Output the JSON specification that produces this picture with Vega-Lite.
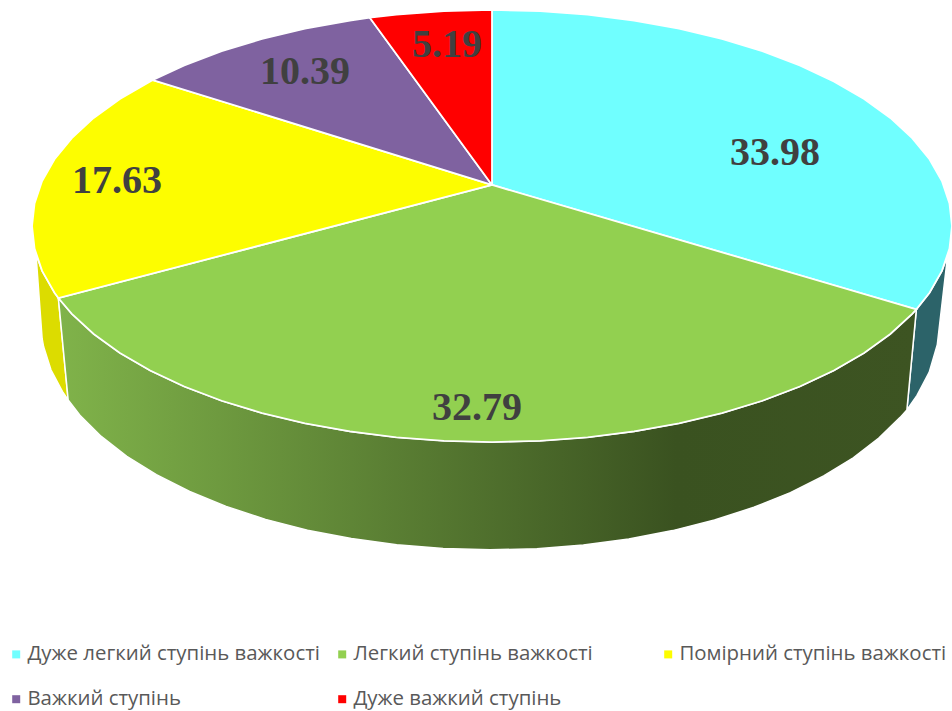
{
"$schema":"https://vega.github.io/schema/vega-lite/v6.json",
"width":952,"height":711,"padding":0,"autosize":{"type":"none"},
"background":"white","view":{"stroke":null},
"config":{"font":"Open Sans"},
"datasets":{
"slices":[
{"slice":"Дуже легкий ступінь важкості","p":0,"x":0,"y":19},{"slice":"Дуже легкий ступінь важкості","p":1,"x":0,"y":100},{"slice":"Дуже легкий ступінь важкості","p":2,"x":10.45,"y":99.45},{"slice":"Дуже легкий ступінь важкості","p":3,"x":20.79,"y":97.81},{"slice":"Дуже легкий ступінь важкості","p":4,"x":30.9,"y":95.11},{"slice":"Дуже легкий ступінь важкості","p":5,"x":40.67,"y":91.35},{"slice":"Дуже легкий ступінь важкості","p":6,"x":50,"y":86.6},{"slice":"Дуже легкий ступінь важкості","p":7,"x":58.78,"y":80.9},{"slice":"Дуже легкий ступінь важкості","p":8,"x":66.91,"y":74.31},{"slice":"Дуже легкий ступінь важкості","p":9,"x":74.31,"y":66.91},{"slice":"Дуже легкий ступінь важкості","p":10,"x":80.9,"y":58.78},{"slice":"Дуже легкий ступінь важкості","p":11,"x":86.6,"y":50},{"slice":"Дуже легкий ступінь важкості","p":12,"x":91.35,"y":40.67},{"slice":"Дуже легкий ступінь важкості","p":13,"x":95.11,"y":30.9},{"slice":"Дуже легкий ступінь важкості","p":14,"x":97.81,"y":20.79},{"slice":"Дуже легкий ступінь важкості","p":15,"x":99.45,"y":10.45},{"slice":"Дуже легкий ступінь важкості","p":16,"x":100,"y":0},{"slice":"Дуже легкий ступінь важкості","p":17,"x":99.45,"y":-10.45},{"slice":"Дуже легкий ступінь важкості","p":18,"x":97.81,"y":-20.79},{"slice":"Дуже легкий ступінь важкості","p":19,"x":95.11,"y":-30.9},{"slice":"Дуже легкий ступінь важкості","p":20,"x":92.25,"y":-38.59},{"slice":"Дуже легкий ступінь важкості","p":21,"x":0,"y":19},
{"slice":"Легкий ступінь важкості","p":0,"x":0,"y":19},{"slice":"Легкий ступінь важкості","p":1,"x":92.25,"y":-38.59},{"slice":"Легкий ступінь важкості","p":2,"x":91.35,"y":-40.67},{"slice":"Легкий ступінь важкості","p":3,"x":86.6,"y":-50},{"slice":"Легкий ступінь важкості","p":4,"x":80.9,"y":-58.78},{"slice":"Легкий ступінь важкості","p":5,"x":74.31,"y":-66.91},{"slice":"Легкий ступінь важкості","p":6,"x":66.91,"y":-74.31},{"slice":"Легкий ступінь важкості","p":7,"x":58.78,"y":-80.9},{"slice":"Легкий ступінь важкості","p":8,"x":50,"y":-86.6},{"slice":"Легкий ступінь важкості","p":9,"x":40.67,"y":-91.35},{"slice":"Легкий ступінь важкості","p":10,"x":30.9,"y":-95.11},{"slice":"Легкий ступінь важкості","p":11,"x":20.79,"y":-97.81},{"slice":"Легкий ступінь важкості","p":12,"x":10.45,"y":-99.45},{"slice":"Легкий ступінь важкості","p":13,"x":0,"y":-100},{"slice":"Легкий ступінь важкості","p":14,"x":-10.45,"y":-99.45},{"slice":"Легкий ступінь важкості","p":15,"x":-20.79,"y":-97.81},{"slice":"Легкий ступінь важкості","p":16,"x":-30.9,"y":-95.11},{"slice":"Легкий ступінь важкості","p":17,"x":-40.67,"y":-91.35},{"slice":"Легкий ступінь важкості","p":18,"x":-50,"y":-86.6},{"slice":"Легкий ступінь важкості","p":19,"x":-58.78,"y":-80.9},{"slice":"Легкий ступінь важкості","p":20,"x":-66.91,"y":-74.31},{"slice":"Легкий ступінь важкості","p":21,"x":-74.31,"y":-66.91},{"slice":"Легкий ступінь важкості","p":22,"x":-80.9,"y":-58.78},{"slice":"Легкий ступінь важкості","p":23,"x":-86.6,"y":-50},{"slice":"Легкий ступінь важкості","p":24,"x":-91.35,"y":-40.67},{"slice":"Легкий ступінь важкості","p":25,"x":-94.27,"y":-33.38},{"slice":"Легкий ступінь важкості","p":26,"x":0,"y":19},
{"slice":"Помірний ступінь важкості","p":0,"x":0,"y":19},{"slice":"Помірний ступінь важкості","p":1,"x":-94.27,"y":-33.38},{"slice":"Помірний ступінь важкості","p":2,"x":-95.11,"y":-30.9},{"slice":"Помірний ступінь важкості","p":3,"x":-97.81,"y":-20.79},{"slice":"Помірний ступінь важкості","p":4,"x":-99.45,"y":-10.45},{"slice":"Помірний ступінь важкості","p":5,"x":-100,"y":0},{"slice":"Помірний ступінь важкості","p":6,"x":-99.45,"y":10.45},{"slice":"Помірний ступінь важкості","p":7,"x":-97.81,"y":20.79},{"slice":"Помірний ступінь важкості","p":8,"x":-95.11,"y":30.9},{"slice":"Помірний ступінь важкості","p":9,"x":-91.35,"y":40.67},{"slice":"Помірний ступінь важкості","p":10,"x":-86.6,"y":50},{"slice":"Помірний ступінь важкості","p":11,"x":-80.9,"y":58.78},{"slice":"Помірний ступінь важкості","p":12,"x":-74.31,"y":66.91},{"slice":"Помірний ступінь важкості","p":13,"x":-73.73,"y":67.56},{"slice":"Помірний ступінь важкості","p":14,"x":0,"y":19},
{"slice":"Важкий ступінь","p":0,"x":0,"y":19},{"slice":"Важкий ступінь","p":1,"x":-73.73,"y":67.56},{"slice":"Важкий ступінь","p":2,"x":-66.91,"y":74.31},{"slice":"Важкий ступінь","p":3,"x":-58.78,"y":80.9},{"slice":"Важкий ступінь","p":4,"x":-50,"y":86.6},{"slice":"Важкий ступінь","p":5,"x":-40.67,"y":91.35},{"slice":"Важкий ступінь","p":6,"x":-30.9,"y":95.11},{"slice":"Важкий ступінь","p":7,"x":-26.56,"y":96.41},{"slice":"Важкий ступінь","p":8,"x":0,"y":19},
{"slice":"Дуже важкий ступінь","p":0,"x":0,"y":19},{"slice":"Дуже важкий ступінь","p":1,"x":-26.56,"y":96.41},{"slice":"Дуже важкий ступінь","p":2,"x":-20.79,"y":97.81},{"slice":"Дуже важкий ступінь","p":3,"x":-10.45,"y":99.45},{"slice":"Дуже важкий ступінь","p":4,"x":0,"y":100},{"slice":"Дуже важкий ступінь","p":5,"x":0,"y":19}
],
"wallCyan":[{"p":0,"x":92.25,"y":-38.59},{"p":1,"x":95.11,"y":-30.9},{"p":2,"x":97.81,"y":-20.79},{"p":3,"x":99.03,"y":-13.92},{"p":4,"x":96.8,"y":-55},{"p":5,"x":95.03,"y":-67.8},{"p":6,"x":92.4,"y":-78.4},{"p":7,"x":90.19,"y":-85.2},{"p":8,"x":92.25,"y":-38.59}],
"wallYellow":[{"p":0,"x":-94.27,"y":-33.38},{"p":1,"x":-95.11,"y":-30.9},{"p":2,"x":-97.81,"y":-20.79},{"p":3,"x":-99.14,"y":-13.05},{"p":4,"x":-97.8,"y":-52.17},{"p":5,"x":-97.49,"y":-55.79},{"p":6,"x":-95.89,"y":-66.56},{"p":7,"x":-93.26,"y":-77.1},{"p":8,"x":-92.14,"y":-80.54},{"p":9,"x":-94.27,"y":-33.38}],
"wallGreen":[{"p":0,"x":92.25,"y":-38.59},{"p":1,"x":91.35,"y":-40.67},{"p":2,"x":86.6,"y":-50},{"p":3,"x":80.9,"y":-58.78},{"p":4,"x":74.31,"y":-66.91},{"p":5,"x":66.91,"y":-74.31},{"p":6,"x":58.78,"y":-80.9},{"p":7,"x":50,"y":-86.6},{"p":8,"x":40.67,"y":-91.35},{"p":9,"x":30.9,"y":-95.11},{"p":10,"x":20.79,"y":-97.81},{"p":11,"x":10.45,"y":-99.45},{"p":12,"x":0,"y":-100},{"p":13,"x":-10.45,"y":-99.45},{"p":14,"x":-20.79,"y":-97.81},{"p":15,"x":-30.9,"y":-95.11},{"p":16,"x":-40.67,"y":-91.35},{"p":17,"x":-50,"y":-86.6},{"p":18,"x":-58.78,"y":-80.9},{"p":19,"x":-66.91,"y":-74.31},{"p":20,"x":-74.31,"y":-66.91},{"p":21,"x":-80.9,"y":-58.78},{"p":22,"x":-86.6,"y":-50},{"p":23,"x":-91.35,"y":-40.67},{"p":24,"x":-94.27,"y":-33.38},{"p":25,"x":-92.14,"y":-80.54},{"p":26,"x":-89.59,"y":-87.6},{"p":27,"x":-84.95,"y":-97.4},{"p":28,"x":-79.39,"y":-106.6},{"p":29,"x":-72.96,"y":-115.1},{"p":30,"x":-65.73,"y":-122.9},{"p":31,"x":-57.8,"y":-129.8},{"p":32,"x":-49.23,"y":-135.8},{"p":33,"x":-40.12,"y":-140.8},{"p":34,"x":-30.59,"y":-144.7},{"p":35,"x":-20.72,"y":-147.6},{"p":36,"x":-10.63,"y":-149.3},{"p":37,"x":-0.43,"y":-149.9},{"p":38,"x":9.77,"y":-149.4},{"p":39,"x":19.86,"y":-147.7},{"p":40,"x":29.73,"y":-144.9},{"p":41,"x":39.26,"y":-141},{"p":42,"x":48.37,"y":-136.1},{"p":43,"x":56.94,"y":-130.2},{"p":44,"x":64.87,"y":-123.4},{"p":45,"x":72.1,"y":-115.7},{"p":46,"x":78.53,"y":-107.3},{"p":47,"x":84.09,"y":-98.2},{"p":48,"x":88.73,"y":-88.6},{"p":49,"x":90.19,"y":-85.2},{"p":50,"x":92.25,"y":-38.59}],
"values":[
{"slice":"Дуже легкий ступінь важкості","value":33.98,"x":61.52,"y":33.8},
{"slice":"Легкий ступінь важкості","value":32.79,"x":-3.26,"y":-84.3},
{"slice":"Помірний ступінь важкості","value":17.63,"x":-81.5,"y":20.8},
{"slice":"Важкий ступінь","value":10.39,"x":-40.65,"y":71.3},
{"slice":"Дуже важкий ступінь","value":5.19,"x":-9.78,"y":83.8}
]
},
"encoding":{
"x":{"field":"x","type":"quantitative","axis":null,"scale":{"domain":[-106.96,100],"nice":false,"zero":false}},
"y":{"field":"y","type":"quantitative","axis":null,"scale":{"domain":[-224.5,104.6],"nice":false,"zero":false}}
},
"layer":[
{"data":{"name":"wallCyan"},"mark":{"type":"line","filled":true,"fill":"#2c6369","stroke":"white","strokeWidth":1.5},"encoding":{"order":{"field":"p","type":"quantitative"}}},
{"data":{"name":"wallYellow"},"mark":{"type":"line","filled":true,"fill":"#dcdc00","stroke":"white","strokeWidth":1.5},"encoding":{"order":{"field":"p","type":"quantitative"}}},
{"data":{"name":"wallGreen"},"mark":{"type":"line","filled":true,"stroke":"white","strokeWidth":1.5,"fill":{"gradient":"linear","x1":0,"x2":1,"y1":0,"y2":0,"stops":[{"offset":0,"color":"#80b34a"},{"offset":0.72,"color":"#3a5220"},{"offset":1,"color":"#3d5422"}]}},"encoding":{"order":{"field":"p","type":"quantitative"}}},
{"data":{"name":"slices"},"mark":{"type":"line","filled":true,"stroke":"white","strokeWidth":1.8},"encoding":{
"order":{"field":"p","type":"quantitative"},
"fill":{"field":"slice","type":"nominal","scale":{"domain":["Дуже легкий ступінь важкості","Легкий ступінь важкості","Помірний ступінь важкості","Важкий ступінь","Дуже важкий ступінь"],"range":["#70ffff","#92d050","#fdfd00","#7f62a0","#ff0000"]},
"legend":{"title":null,"orient":"none","direction":"horizontal","gridAlign":"all","legendX":6,"legendY":644,"columns":3,"symbolType":"square","symbolSize":64,"symbolStrokeWidth":0,"labelFont":"Open Sans","labelFontSize":20.4,"labelColor":"#595959","labelLimit":400,"labelOffset":1,"columnPadding":12,"rowPadding":24,"padding":0}}
}},
{"data":{"name":"values"},"mark":{"type":"text","font":"Liberation Serif","fontWeight":"bold","fontSize":40,"color":"#404040","baseline":"middle","align":"center"},"encoding":{"text":{"field":"value","type":"quantitative","format":".2f"}}}
]
}
